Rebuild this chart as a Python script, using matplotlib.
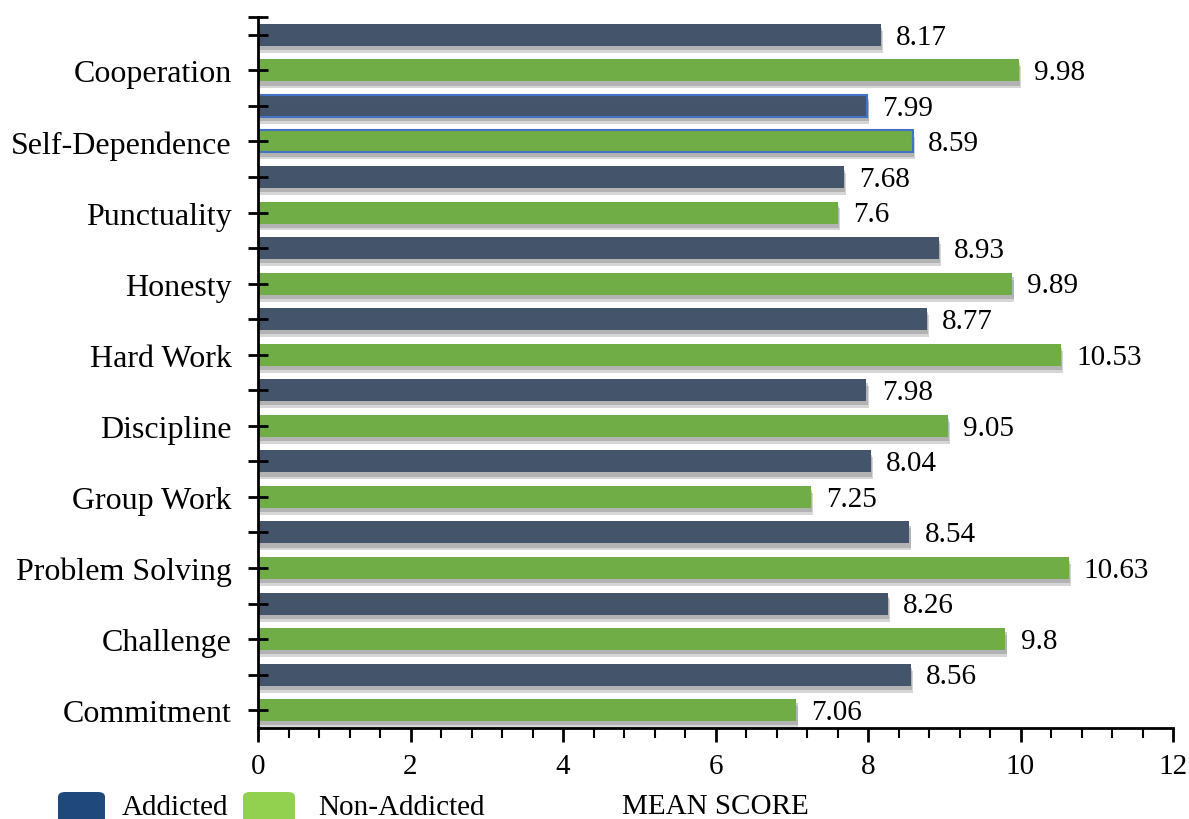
import numpy as np
import matplotlib.pyplot as plt
import matplotlib.patheffects as pe
from matplotlib.patches import FancyBboxPatch
from matplotlib.ticker import MultipleLocator

plt.rcParams['font.family'] = ['Liberation Serif', 'DejaVu Serif']

categories = ["Cooperation", "Self-Dependence", "Punctuality", "Honesty", "Hard Work",
              "Discipline", "Group Work", "Problem Solving", "Challenge", "Commitment"]
addicted = [8.17, 7.99, 7.68, 8.93, 8.77, 7.98, 8.04, 8.54, 8.26, 8.56]
non_addicted = [9.98, 8.59, 7.6, 9.89, 10.53, 9.05, 7.25, 10.63, 9.8, 7.06]
value_labels_a = ["8.17", "7.99", "7.68", "8.93", "8.77", "7.98", "8.04", "8.54", "8.26", "8.56"]
value_labels_n = ["9.98", "8.59", "7.6", "9.89", "10.53", "9.05", "7.25", "10.63", "9.8", "7.06"]

c_add = '#44546a'
c_non = '#70ad47'

fig = plt.figure(figsize=(11.89, 8.20), dpi=100)
ax = fig.add_axes([258/1189, 1-729/820, (1173-258)/1189, (729-18)/820])

n = len(categories)
y_add = np.arange(n) * 2
y_non = y_add + 1
h = 0.62
shadow = [pe.SimplePatchShadow(offset=(1.5, -5), shadow_rgbFace='0.6', alpha=0.4),
          pe.SimplePatchShadow(offset=(1, -3), shadow_rgbFace='0.5', alpha=0.4),
          pe.Normal()]

for i in range(n):
    ec = '#4472c4' if categories[i] == "Self-Dependence" else 'none'
    b1 = ax.barh(y_add[i], addicted[i], height=h, color=c_add, edgecolor=ec, linewidth=1.5)
    b2 = ax.barh(y_non[i], non_addicted[i], height=h, color=c_non, edgecolor=ec, linewidth=1.5)
    for b in list(b1) + list(b2):
        b.set_path_effects(shadow)
    ax.text(addicted[i] + 0.2, y_add[i] + 0.05, value_labels_a[i], va='center', ha='left', fontsize=21)
    ax.text(non_addicted[i] + 0.2, y_non[i] + 0.05, value_labels_n[i], va='center', ha='left', fontsize=21)

ax.set_xlim(0, 12)
ax.set_ylim(2*n - 0.5, -0.5)

yt = [-0.5] + list(np.arange(2*n))
ylabels = [''] + [categories[k // 2] if k % 2 == 1 else '' for k in range(2*n)]
ax.set_yticks(yt)
ax.set_yticklabels(ylabels, fontsize=23)
ax.tick_params(axis='y', direction='inout', length=14, width=2, pad=12)

ax.xaxis.set_major_locator(MultipleLocator(2))
ax.xaxis.set_minor_locator(MultipleLocator(0.4))
ax.tick_params(axis='x', which='major', direction='out', length=10, width=2, labelsize=21, pad=8)
ax.tick_params(axis='x', which='minor', direction='out', length=7, width=1.5)

for s in ['top', 'right']:
    ax.spines[s].set_visible(False)
for s in ['left', 'bottom']:
    ax.spines[s].set_linewidth(2)

ax.set_xlabel("MEAN SCORE", fontsize=21, labelpad=10)

# legend, bottom left, partly clipped by the figure edge
for x0, w, col, lab, tx in [(58, 47, '#1f497d', "Addicted", 122), (243, 52, '#92d050', "Non-Addicted", 318)]:
    p = FancyBboxPatch((x0/1189, 1-835/820), w/1189, 42/820,
                       boxstyle="round,pad=0,rounding_size=0.006",
                       transform=fig.transFigure, facecolor=col, edgecolor='none')
    fig.add_artist(p)
    fig.text(tx/1189, 1-808/820, lab, fontsize=21, va='center', ha='left')

fig.savefig('out.png', dpi=100)
